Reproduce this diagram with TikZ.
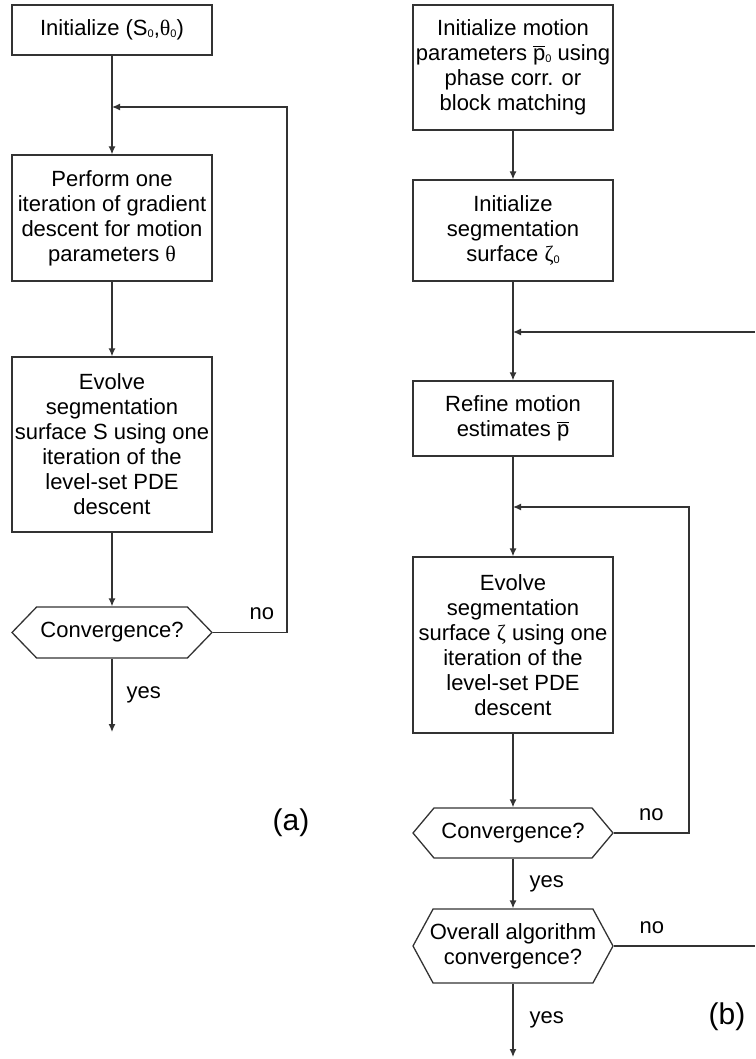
\documentclass[tikz,border=0pt]{standalone}
\usepackage{fontspec}
\setmainfont{Liberation Sans}
\newfontfamily\greekfont{Liberation Serif}
\usetikzlibrary{arrows.meta,shapes.symbols}

\newcommand{\pbar}{$\overline{\mbox{p}}$}
\newcommand{\zero}{\raisebox{-1pt}{\fontsize{5.5}{6}\selectfont 0}}

\tikzstyle{block} = [draw, rectangle, align=center, minimum width=100pt, inner sep=1pt]
\tikzstyle{decision} = [draw, signal, signal to=west and east, signal pointer angle=100, minimum width=100pt, inner sep=1pt, align=center]
\tikzstyle{arrowtext} = [inner sep=0pt]
\tikzstyle{arrow} = [draw, -{Latex[length=4pt, width=3.5pt]}]
\tikzstyle{line} = [draw]

\begin{document}
\begin{tikzpicture}[x=0.5pt, y=-0.5pt, line width=0.65pt, draw=black!80, font=\fontsize{11}{12.5}\selectfont]
	\useasboundingbox (0,0) rectangle (755,1059);

	% (a)
	\node [block, minimum height=25pt] (initA) at (112,30) {Initialize (S\zero,{\greekfont θ}\zero)};
	\node [block, minimum height=63pt] (gradA) at (112,218) {Perform one\\iteration of gradient\\descent for motion\\parameters {\greekfont θ}};
	\node [block, minimum height=87.5pt] (evolveA) at (112,444.5) {Evolve\\segmentation\\surface S using one\\iteration of the\\level-set PDE\\descent};
	\node [decision, minimum height=25.5pt, signal pointer angle=92] (convA) at (112,632.5) {Convergence?};
	\coordinate (loopA) at (112,107);
	\coordinate (cornerA) at (287,107);
	\coordinate (endA) at (112,732);
	\node [font=\fontsize{15}{18}\selectfont] (labelA) at (291,823) {(a)};

	\draw [line] (initA.south) to (loopA);
	\draw [arrow] (loopA) to (gradA.north);
	\draw [arrow] (gradA.south) to (evolveA.north);
	\draw [arrow] (evolveA.south) to (convA.north);
	\draw [arrow] (convA.south) to node[arrowtext, right=7pt] {yes} (endA);
	\draw [arrow] (convA.east) -| node[arrowtext, pos=0.33, above=6pt] {no} (cornerA) -- (loopA);

	% (b)
	\node [block, minimum height=62.5pt] (initB) at (513,67.5) {Initialize motion\\parameters \pbar\zero{} using\\phase corr. or\\block matching};
	\node [block, minimum height=50.5pt] (surfB) at (513,230.5) {Initialize\\segmentation\\surface {\greekfont ζ}\zero};
	\node [block, minimum height=37.5pt] (refineB) at (513,418.5) {Refine motion\\estimates \pbar};
	\node [block, minimum height=88pt] (evolveB) at (513,645) {Evolve\\segmentation\\surface {\greekfont ζ} using one\\iteration of the\\level-set PDE\\descent};
	\node [decision, minimum height=25pt] (convB) at (513,833) {Convergence?};
	\node [decision, minimum height=37pt, signal pointer angle=123, inner xsep=-3pt] (overallB) at (513,946) {Overall algorithm\\convergence?};
	\coordinate (outerB) at (513,332);
	\coordinate (innerB) at (513,507);
	\coordinate (cornerB) at (689,507);
	\coordinate (edgeB) at (755,332);
	\coordinate (edgeC) at (755,946);
	\coordinate (endB) at (513,1057);
	\node [font=\fontsize{15}{18}\selectfont] (labelB) at (727,1017) {(b)};

	\draw [arrow] (initB.south) to (surfB.north);
	\draw [line] (surfB.south) to (outerB);
	\draw [arrow] (outerB) to (refineB.north);
	\draw [line] (refineB.south) to (innerB);
	\draw [arrow] (innerB) to (evolveB.north);
	\draw [arrow] (evolveB.south) to (convB.north);
	\draw [arrow] (convB.south) to node[arrowtext, right=8pt] {yes} (overallB.north);
	\draw [arrow] (overallB.south) to node[arrowtext, right=8pt] {yes} (endB);

	% Loops
	\draw [arrow] (convB.east) -| node[arrowtext, pos=0.25, above=6pt] {no} (cornerB) -- (innerB);
	\draw [arrow] (edgeB) to (outerB);
	\draw [line] (overallB.east) to node[arrowtext, pos=0.27, above=6pt] {no} (edgeC);
\end{tikzpicture}
\end{document}
